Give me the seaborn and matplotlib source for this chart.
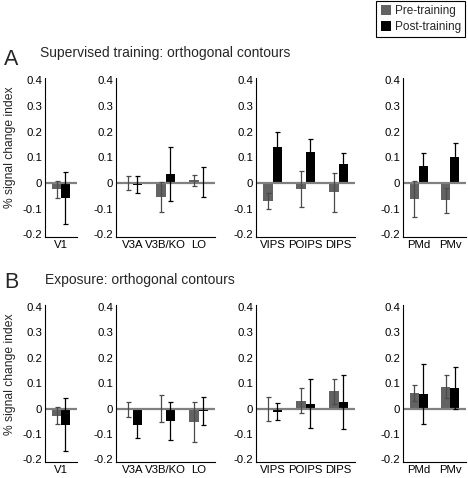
"""
Grouped bar chart of % signal change index per region, pre vs post training.
"""

import matplotlib
matplotlib.use("Agg")
import matplotlib.pyplot as plt
import pandas as pd
import seaborn as sns

# region groups, one axis per group
region_groups = [["V1"], ["V3A", "V3B/KO", "LO"], ["VIPS", "POIPS", "DIPS"], ["PMd", "PMv"]]
regions = ["V1", "V3A", "V3B/KO", "LO", "VIPS", "POIPS", "DIPS", "PMd", "PMv"]
phases = ["Pre-training", "Post-training"]

# A: supervised training
sup_pre = [-0.025, -0.001, -0.053, 0.010, -0.070, -0.023, -0.036, -0.062, -0.068]
sup_pre_err = [0.034, 0.028, 0.058, 0.021, 0.030, 0.070, 0.075, 0.070, 0.050]
sup_post = [-0.058, -0.007, 0.033, 0.005, 0.140, 0.122, 0.075, 0.067, 0.100]
sup_post_err = [0.100, 0.033, 0.105, 0.058, 0.060, 0.050, 0.040, 0.050, 0.055]

# B: exposure
exp_pre = [-0.027, -0.004, 0.001, -0.053, -0.002, 0.032, 0.068, 0.062, 0.087]
exp_pre_err = [0.034, 0.029, 0.053, 0.080, 0.047, 0.048, 0.050, 0.033, 0.047]
exp_post = [-0.063, -0.066, -0.050, -0.009, -0.012, 0.020, 0.027, 0.058, 0.080]
exp_post_err = [0.104, 0.049, 0.075, 0.055, 0.034, 0.095, 0.107, 0.118, 0.083]

yticks = [-0.2, -0.1, 0, 0.1, 0.2, 0.3, 0.4]
ytick_labels = ["-0.2", "-0.1", "0", "0.1", "0.2", "0.3", "0.4"]

rows = [
    ("A", "Supervised training: orthogonal contours", sup_pre, sup_pre_err, sup_post, sup_post_err),
    ("B", "Exposure: orthogonal contours", exp_pre, exp_pre_err, exp_post, exp_post_err),
]

colors = {"Pre-training": "#636363", "Post-training": "#000000"}
err_colors = {"Pre-training": "#4a4a4a", "Post-training": "#000000"}

sns.set_theme(style="white")
plt.rcParams["font.family"] = ["Liberation Sans", "DejaVu Sans"]
plt.rcParams["axes.unicode_minus"] = False

W, H = 468, 478
fig = plt.figure(figsize=(W / 100, H / 100), dpi=100)

# pixel extents of the panels (left, right) and rows (top, bottom)
col_px = [(45, 77), (116, 215), (256, 355), (403, 466)]
row_px = [(77.5, 237), (304.5, 462)]
title_y = [56.7, 284]
letter_y = [65, 287.5]
ylabel_y = [147, 374]

for r, (letter, title, pre, pre_err, post, post_err) in enumerate(rows):
    df = pd.DataFrame({
        "region": regions * 2,
        "phase": [phases[0]] * len(regions) + [phases[1]] * len(regions),
        "value": list(pre) + list(post),
        "err": list(pre_err) + list(post_err),
    })
    top, bot = row_px[r]
    for c, group in enumerate(region_groups):
        left, right = col_px[c]
        ax = fig.add_axes([left / W, 1 - bot / H, (right - left) / W, (bot - top) / H])
        sub = df[df["region"].isin(group)]
        sns.barplot(
            data=sub, x="region", y="value", hue="phase", order=group, hue_order=phases,
            palette=colors, errorbar=None, width=0.56, gap=0, saturation=1,
            legend=False, ax=ax, zorder=2, linewidth=0, edgecolor="none",
        )
        # zero line sits on top of the bar bases
        ax.axhline(0, color="#808080", lw=1.6, zorder=2.5)
        for phase, cont in zip(phases, ax.containers):
            vals = sub[sub["phase"] == phase].set_index("region").loc[group]
            xs = [p.get_x() + p.get_width() / 2 for p in cont.patches]
            ax.errorbar(xs, vals["value"], yerr=vals["err"], fmt="none",
                        ecolor=err_colors[phase], elinewidth=0.9, capsize=1.8,
                        capthick=0.9, zorder=3)
        ax.set_xlim(-0.5, len(group) - 0.5)
        ax.set_ylim(-0.21, 0.41)
        ax.set_yticks(yticks)
        ax.set_yticklabels(ytick_labels)
        ax.set_xlabel("")
        ax.set_ylabel("")
        for side in ["top", "right"]:
            ax.spines[side].set_visible(False)
        for side in ["left", "bottom"]:
            ax.spines[side].set_color("black")
            ax.spines[side].set_linewidth(0.8)
        ax.tick_params(direction="in", length=2.5, width=0.7, labelsize=8.2, pad=2,
                       colors="black")
        if c == 0:
            fig.text(10 / W, 1 - ylabel_y[r] / H, "% signal change index", rotation=90,
                     ha="center", va="center", fontsize=8.7)
    fig.text(4 / W, 1 - letter_y[r] / H, letter, fontsize=15.5, ha="left", va="baseline")
    fig.text(40 / W if r == 0 else 45 / W, 1 - title_y[r] / H, title, fontsize=10,
             ha="left", va="baseline")

handles = fig.axes[0].containers
fig.legend(handles=[handles[0], handles[1]], labels=phases, loc="upper right",
           bbox_to_anchor=(465 / W, 1 - 1 / H), borderaxespad=0, fontsize=8.5,
           frameon=True, fancybox=False, edgecolor="black", framealpha=1,
           handlelength=0.9, handleheight=0.9, handletextpad=0.3, labelspacing=0.3,
           borderpad=0.35)
fig.legends[0].get_frame().set_linewidth(0.8)

fig.savefig("out.png", dpi=100)
